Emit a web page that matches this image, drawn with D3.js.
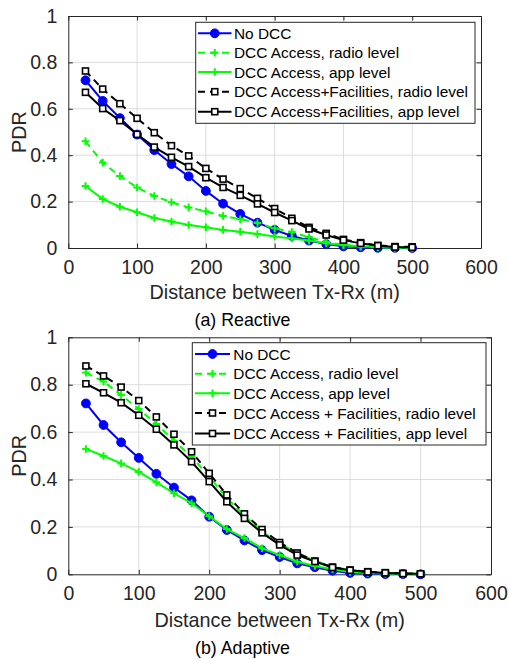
<!DOCTYPE html>
<html><head><meta charset="utf-8">
<script src="https://cdn.jsdelivr.net/npm/d3@7"></script>
<style>body{margin:0;background:#fff;} text{font-family:"Liberation Sans",Arial,Helvetica,sans-serif;}</style>
</head><body><svg id="c" width="509" height="659"></svg>
<script>
const distances = [25,50,75,100,125,150,175,200,225,250,275,300,325,350,375,400,425,450,475,500];
const xTicks = [0,100,200,300,400,500,600];
const yTicks = [0,0.2,0.4,0.6,0.8,1];
const yTickLabels = ["0","0.2","0.4","0.6","0.8","1"];

// (a) Reactive
const noDCC_a    = [0.723,0.634,0.560,0.489,0.422,0.362,0.309,0.246,0.191,0.147,0.109,0.078,0.052,0.032,0.017,0.007,0.003,0.001,0.001,0.000];
const accRadio_a = [0.460,0.368,0.310,0.261,0.224,0.197,0.175,0.158,0.138,0.124,0.108,0.085,0.069,0.046,0.027,0.013,0.006,0.003,0.001,0.000];
const accApp_a   = [0.267,0.211,0.178,0.154,0.129,0.114,0.099,0.089,0.078,0.070,0.060,0.050,0.041,0.032,0.020,0.013,0.007,0.004,0.002,0.001];
const facRadio_a = [0.763,0.685,0.622,0.559,0.497,0.441,0.397,0.343,0.297,0.256,0.214,0.170,0.128,0.089,0.063,0.037,0.023,0.011,0.006,0.005];
const facApp_a   = [0.671,0.601,0.549,0.490,0.435,0.391,0.351,0.303,0.261,0.227,0.190,0.153,0.118,0.082,0.056,0.034,0.020,0.010,0.004,0.003];

// (b) Adaptive
const noDCC_b    = [0.721,0.630,0.557,0.491,0.424,0.366,0.312,0.243,0.187,0.143,0.102,0.073,0.046,0.030,0.015,0.006,0.003,0.001,0.001,0.000];
const accRadio_b = [0.851,0.813,0.757,0.697,0.634,0.564,0.496,0.412,0.322,0.247,0.181,0.130,0.090,0.057,0.032,0.018,0.010,0.005,0.003,0.001];
const accApp_b   = [0.529,0.499,0.468,0.432,0.388,0.342,0.300,0.245,0.191,0.153,0.110,0.081,0.053,0.035,0.021,0.010,0.006,0.003,0.002,0.001];
const facRadio_b = [0.879,0.837,0.790,0.733,0.664,0.591,0.517,0.426,0.335,0.255,0.189,0.134,0.090,0.056,0.030,0.018,0.011,0.007,0.004,0.002];
const facApp_b   = [0.804,0.766,0.724,0.671,0.612,0.546,0.475,0.391,0.306,0.236,0.175,0.124,0.081,0.054,0.029,0.017,0.010,0.006,0.003,0.002];

const legend_a = ["No DCC","DCC Access, radio level","DCC Access, app level","DCC Access+Facilities, radio level","DCC Access+Facilities, app level"];
const legend_b = ["No DCC","DCC Access, radio level","DCC Access, app level","DCC Access + Facilities, radio level","DCC Access + Facilities, app level"];

const styles = [
  {color:"#0000ff", dash:null, marker:"circle"},
  {color:"#00ff00", dash:"7,5", marker:"plus"},
  {color:"#00ff00", dash:null, marker:"plus"},
  {color:"#000000", dash:"7,5", marker:"square"},
  {color:"#000000", dash:null, marker:"square"}
];

const svg = d3.select("#c");
const axisColor = "#262626";

function drawMarker(g, type, color, x, y){
  if(type==="circle"){
    g.append("circle").attr("cx",x).attr("cy",y).attr("r",4.4).attr("fill",color).attr("stroke",color).attr("stroke-width",1);
  } else if(type==="plus"){
    g.append("path").attr("d",`M${x-3.8},${y}H${x+3.8}M${x},${y-3.8}V${y+3.8}`).attr("stroke",color).attr("stroke-width",2).attr("fill","none");
  } else {
    g.append("rect").attr("x",x-3).attr("y",y-3).attr("width",6).attr("height",6).attr("fill","#fff").attr("stroke",color).attr("stroke-width",1.6);
  }
}

function panel(cfg){
  const x = d3.scaleLinear().domain([0,600]).range([cfg.left,cfg.right]);
  const y = d3.scaleLinear().domain([0,1]).range([cfg.bottom,cfg.top]);
  const g = svg.append("g");
  // grid
  g.append("g").selectAll("line.gx").data(xTicks.slice(1,-1)).join("line")
    .attr("x1",d=>x(d)).attr("x2",d=>x(d)).attr("y1",cfg.top).attr("y2",cfg.bottom)
    .attr("stroke","#dcdcdc").attr("stroke-width",1);
  g.append("g").selectAll("line.gy").data(yTicks.slice(1,-1)).join("line")
    .attr("y1",d=>y(d)).attr("y2",d=>y(d)).attr("x1",cfg.left).attr("x2",cfg.right)
    .attr("stroke","#dcdcdc").attr("stroke-width",1);
  // axes
  const ax = (sel)=>{sel.selectAll("path").attr("stroke",axisColor);sel.selectAll("line").attr("stroke",axisColor);sel.selectAll("text").attr("fill",axisColor).attr("font-size","19.5px");};
  g.append("g").attr("transform",`translate(0,${cfg.bottom})`)
    .call(d3.axisBottom(x).tickValues(xTicks).tickSizeInner(-4.5).tickSizeOuter(0).tickPadding(12).tickFormat(d3.format("d")))
    .call(ax);
  g.append("g").attr("transform",`translate(0,${cfg.top})`)
    .call(d3.axisTop(x).tickValues(xTicks).tickSizeInner(-4.5).tickSizeOuter(0).tickFormat(""))
    .call(ax);
  g.append("g").attr("transform",`translate(${cfg.left},0)`)
    .call(d3.axisLeft(y).tickValues(yTicks).tickSizeInner(-4.5).tickSizeOuter(0).tickPadding(11).tickFormat((d,i)=>yTickLabels[i]))
    .call(ax);
  g.append("g").attr("transform",`translate(${cfg.right},0)`)
    .call(d3.axisRight(y).tickValues(yTicks).tickSizeInner(-4.5).tickSizeOuter(0).tickFormat(""))
    .call(ax);
  g.selectAll(".domain").attr("stroke-width",1);
  // labels
  g.append("text").attr("x",(cfg.left+cfg.right)/2).attr("y",cfg.xlabelY).attr("text-anchor","middle")
    .attr("font-size","19.8px").attr("fill",axisColor).text("Distance between Tx-Rx (m)");
  g.append("text").attr("transform",`translate(26,${(cfg.top+cfg.bottom)/2}) rotate(-90)`).attr("text-anchor","middle")
    .attr("font-size","19.8px").attr("fill",axisColor).text("PDR");
  g.append("text").attr("x",242.5).attr("y",cfg.captionY).attr("text-anchor","middle")
    .attr("font-size","17.8px").attr("fill","#000").text(cfg.caption);
  // series
  const line = d3.line().x((d,i)=>x(distances[i])).y(d=>y(d));
  cfg.series.forEach((s,k)=>{
    const st = styles[k];
    const sg = g.append("g");
    sg.append("path").datum(s).attr("d",line).attr("fill","none").attr("stroke",st.color)
      .attr("stroke-width",2).attr("stroke-dasharray",st.dash);
    s.forEach((v,i)=>drawMarker(sg, st.marker, st.color, x(distances[i]), y(v)));
  });
  // legend
  const L = cfg.legend;
  const lg = g.append("g");
  lg.append("rect").attr("x",L.x0).attr("y",L.y0).attr("width",L.x1-L.x0).attr("height",L.y1-L.y0)
    .attr("fill","#fff").attr("stroke",axisColor).attr("stroke-width",1);
  cfg.labels.forEach((t,k)=>{
    const st = styles[k];
    const cy = L.rows[k];
    lg.append("line").attr("x1",L.lx0).attr("x2",L.lx1).attr("y1",cy).attr("y2",cy)
      .attr("stroke",st.color).attr("stroke-width",2).attr("stroke-dasharray",st.dash);
    drawMarker(lg, st.marker, st.color, (L.lx0+L.lx1)/2, cy);
    lg.append("text").attr("x",L.tx).attr("y",cy).attr("dy","0.36em").attr("font-size","15.4px").attr("fill","#000").text(t);
  });
}

panel({left:68.3,right:481,top:16,bottom:248,xlabelY:298.5,captionY:325.5,caption:"(a) Reactive",
  series:[noDCC_a,accRadio_a,accApp_a,facRadio_a,facApp_a], labels:legend_a,
  legend:{x0:195.7,x1:475,y0:22.3,y1:123.3,rows:[33.3,52.7,72,91.7,111.7],lx0:198,lx1:231.5,tx:234}});
panel({left:68.3,right:491,top:337.3,bottom:574.3,xlabelY:626.5,captionY:654,caption:"(b) Adaptive",
  series:[noDCC_b,accRadio_b,accApp_b,facRadio_b,facApp_b], labels:legend_b,
  legend:{x0:192.3,x1:486,y0:342.7,y1:445,rows:[354,373.7,393.3,413,433.5],lx0:195,lx1:230,tx:233.3}});
</script></body></html>
